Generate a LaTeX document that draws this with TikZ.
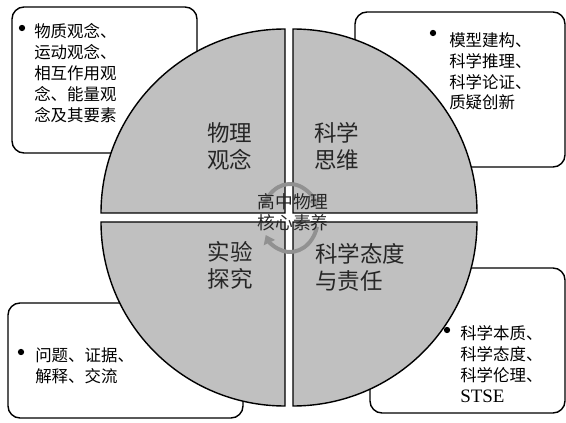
\documentclass[tikz,border=0pt]{standalone}
\usepackage{fontspec}
\setmainfont{Liberation Serif}
\newfontfamily\cjk{Noto Sans CJK SC}
\usetikzlibrary{arrows.meta}
\definecolor{quadgray}{RGB}{192,192,192}
\definecolor{ringgray}{RGB}{145,145,145}

\begin{document}
\begin{tikzpicture}[x=0.025cm,y=0.025cm,
  infobox/.style={draw,line width=1pt,fill=white,rounded corners=0.3cm},
  quad/.style={draw,line width=1pt,fill=quadgray},
  bullet/.style={circle,fill=black,inner sep=0pt,minimum size=4.5pt},
  itemtext/.style={anchor=north west,align=left,inner sep=0pt,font=\cjk\fontsize{11.7}{14.9}\selectfont},
  quadtext/.style={align=left,inner sep=0pt,text=black!85,font=\cjk\fontsize{16}{19.2}\selectfont},
  coretext/.style={align=center,inner sep=0pt,text=black!85,font=\cjk\fontsize{12.6}{14.9}\selectfont},
  cyclearrow/.style={ringgray,line width=2.8pt,-{Triangle[length=6pt,width=8.5pt]}}]
\useasboundingbox (0,0) rectangle (566,422);
% boxes behind the circle
\draw[infobox] (12,415) rectangle (197,269);
\draw[infobox] (355,410) rectangle (565,255);
\draw[infobox] (8,119) rectangle (243,4);
\draw[infobox] (370,154) rectangle (565,9);
% four quarters
\draw[quad] (285,209) -- (101,209) arc[start angle=180,end angle=90,radius=184] -- cycle;
\draw[quad] (293,209) -- (293,393) arc[start angle=90,end angle=0,radius=184] -- cycle;
\draw[quad] (285,200) -- (101,200) arc[start angle=180,end angle=270,radius=184] -- cycle;
\draw[quad] (293,200) -- (477,200) arc[start angle=0,end angle=-90,radius=184] -- cycle;
% ring in the middle
\coordinate (core) at (290,204);
\draw[cyclearrow] (core) ++(160:28 and 34) arc[start angle=160,end angle=18,x radius=28,y radius=34];
\draw[cyclearrow] (core) ++(-15:28 and 34) arc[start angle=-15,end angle=-150,x radius=28,y radius=34];
\node[coretext] (core text) at (293,209.5) {高中物理\\核心素养};
% labels of the quarters
\node[quadtext] (wuli) at (229.5,275.5) {物理\\观念};
\node[quadtext] (siwei) at (336.5,275.5) {科学\\思维};
\node[quadtext] (tanjiu) at (230,157) {实验\\探究};
\node[quadtext,anchor=west] (taidu) at (315,154.5) {科学态度\\与责任};
% box texts
\node[bullet] (tl dot) at (22,394) {};
\node[itemtext] (tl text) at (34,399) {物质观念、\\运动观念、\\相互作用观\\念、能量观\\念及其要素};
\node[bullet] (tr dot) at (433,389) {};
\node[itemtext] (tr text) at (449,390) {模型建构、\\科学推理、\\科学论证、\\质疑创新};
\node[bullet] (bl dot) at (21,70) {};
\node[itemtext] (bl text) at (35,75) {问题、证据、\\解释、交流};
\node[bullet] (br dot) at (447,92) {};
\node[itemtext] (br text) at (460,97) {科学本质、\\科学态度、\\科学伦理、\\{\rmfamily\fontsize{13.5}{14.9}\selectfont STSE}};
\end{tikzpicture}
\end{document}
